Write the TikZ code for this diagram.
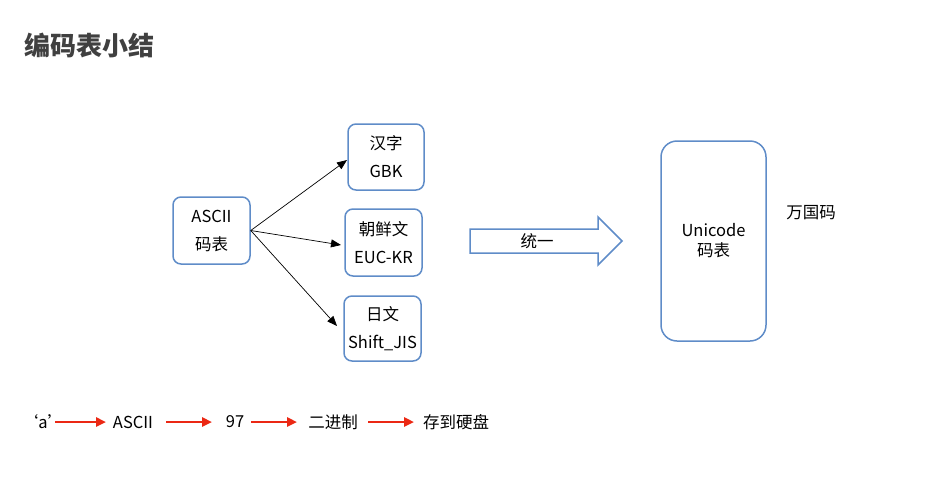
\documentclass[tikz,border=0pt]{standalone}
\usepackage{fontspec}
\setmainfont{Noto Sans CJK SC}
\usetikzlibrary{arrows.meta}
\definecolor{bl}{RGB}{95,140,200}
\definecolor{rd}{RGB}{235,40,20}
\begin{document}
\begin{tikzpicture}[x=1pt,y=-1pt,
  box/.style={draw=bl,line width=1.5pt,rounded corners=8pt,align=center,font=\fontsize{16.5}{28}\selectfont,inner sep=0pt},
  lbl/.style={font=\fontsize{16.5}{18}\selectfont,inner sep=1pt},
  ar/.style={-{Triangle[length=10pt,width=8pt]},line width=0.7pt},
  rar/.style={-{Triangle[length=10pt,width=9pt]},draw=rd,line width=2.4pt}]
\useasboundingbox (0,0) rectangle (943,480);
\node[font=\bfseries\fontsize{26}{28}\selectfont,text=black!75,anchor=west,inner sep=0] (title) at (24,45) {编码表小结};
\node[box,minimum width=77pt,minimum height=67pt] (ascii) at (211.5,230.5) {ASCII\\码表};
\node[box,minimum width=76pt,minimum height=66pt] (gbk) at (386,157) {汉字\\GBK};
\node[box,minimum width=77pt,minimum height=67pt] (euc) at (383.5,242.5) {朝鲜文\\EUC-KR};
\node[box,minimum width=77pt,minimum height=65pt] (sjis) at (382.5,328.5) {日文\\Shift\_JIS};
\coordinate (t1) at (347,160);
\coordinate (t2) at (341,245);
\coordinate (t3) at (337,326);
\draw[ar] (ascii.east) -- (t1);
\draw[ar] (ascii.east) -- (t2);
\draw[ar] (ascii.east) -- (t3);
\draw[bl,line width=1.5pt,line join=miter] (470,229) -- (598,229) -- (598,217) -- (622,241) -- (598,265) -- (598,253) -- (470,253) -- cycle;
\node[lbl] (ty) at (537,241) {统一};
\node[box,rounded corners=16pt,minimum width=105pt,minimum height=200pt,font=\fontsize{16.5}{20}\selectfont] (uni) at (713.5,241) {Unicode\\码表};
\node[lbl] (wgm) at (811,213) {万国码};
\node[lbl] (a) at (43,422) {‘a’};
\node[lbl] (as) at (133,422) {ASCII};
\node[lbl] (n97) at (235,422) {97};
\node[lbl] (bin) at (333,422) {二进制};
\node[lbl] (disk) at (456,422) {存到硬盘};
\coordinate (s1) at (55,422);
\coordinate (s2) at (166,422);
\coordinate (s3) at (251,422);
\coordinate (s4) at (368,422);
\coordinate (r1) at (106,422);
\coordinate (r2) at (212,422);
\coordinate (r3) at (297,422);
\coordinate (r4) at (414,422);
\draw[rar] (s1) -- (r1);
\draw[rar] (s2) -- (r2);
\draw[rar] (s3) -- (r3);
\draw[rar] (s4) -- (r4);
\end{tikzpicture}
\end{document}
